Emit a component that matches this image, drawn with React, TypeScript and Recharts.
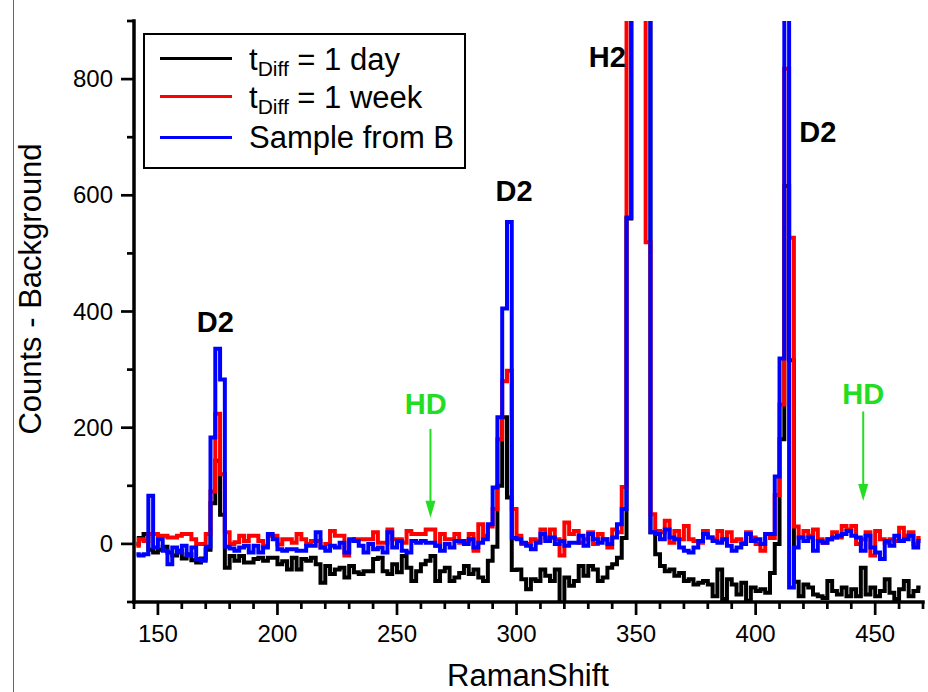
import React from 'react';
import {
  LineChart,
  Line,
  XAxis,
  YAxis,
  Legend,
  ReferenceDot,
  ReferenceLine,
} from 'recharts';

// Raman shift bins (cm-1)
const RAMAN_SHIFT = [
  141, 143, 145, 147, 149, 151, 153, 155, 157, 159,
  161, 163, 165, 167, 169, 171, 173, 175, 177, 179,
  181, 183, 185, 187, 189, 191, 193, 195, 197, 199,
  201, 203, 205, 207, 209, 211, 213, 215, 217, 219,
  221, 223, 225, 227, 229, 231, 233, 235, 237, 239,
  241, 243, 245, 247, 249, 251, 253, 255, 257, 259,
  261, 263, 265, 267, 269, 271, 273, 275, 277, 279,
  281, 283, 285, 287, 289, 291, 293, 295, 297, 299,
  301, 303, 305, 307, 309, 311, 313, 315, 317, 319,
  321, 323, 325, 327, 329, 331, 333, 335, 337, 339,
  341, 343, 345, 347, 349, 351, 353, 355, 357, 359,
  361, 363, 365, 367, 369, 371, 373, 375, 377, 379,
  381, 383, 385, 387, 389, 391, 393, 395, 397, 399,
  401, 403, 405, 407, 409, 411, 413, 415, 417, 419,
  421, 423, 425, 427, 429, 431, 433, 435, 437, 439,
  441, 443, 445, 447, 449, 451, 453, 455, 457, 459,
  461, 463, 465, 467, 469,
];

// t_Diff = 1 day (black)
const DAY_1 = [
  0, 10, 17, -10, -15, -10, -5, -15, -20, -12,
  -25, -18, -28, -32, -25, -10, 70, 143, 50, -41,
  -21, -29, -21, -32, -32, -26, -24, -29, -24, -24,
  -35, -30, -44, -24, -44, -26, -29, -24, -35, -67,
  -38, -52, -44, -41, -58, -38, -49, -52, -47, -47,
  -26, -24, -47, -52, -35, -49, -21, -41, -64, -47,
  -35, -29, -21, -64, -47, -41, -64, -58, -50, -38,
  -52, -44, -58, -64, -29, -5, 100, 218, 80, -45,
  -44, -61, -78, -61, -64, -44, -55, -64, -44, -105,
  -58, -72, -64, -38, -55, -38, -44, -64, -58, -41,
  -35, -24, 10, 560, 2000, 2500, 2000, 3000, 20, -18,
  -38, -47, -44, -55, -50, -64, -61, -70, -67, -64,
  -70, -90, -44, -95, -61, -70, -87, -67, -98, -75,
  -81, -78, -84, -50, 0, 180, 616, 316, -65, -90,
  -70, -75, -87, -90, -93, -64, -81, -87, -75, -90,
  -78, -90, -41, -87, -75, -90, -81, -61, -84, -95,
  -78, -64, -90, -81, -75,
];

// t_Diff = 1 week (red)
const WEEK_1 = [
  -3, 8, 5, 17, 17, 14, 14, 11, 11, 14,
  17, 17, 8, 0, 0, 17, 90, 224, 120, 20,
  0, 3, 14, 5, 14, 14, 5, -3, 14, 14,
  -1, 8, 8, 2, 17, 8, 0, 5, 5, -6,
  0, 22, 14, 14, -20, 5, 8, 8, 8, 8,
  20, 2, 2, 25, 8, 8, 2, 22, 17, 17,
  17, 25, 25, -3, 17, 8, 8, 17, 2, 5,
  17, -12, 34, 14, 30, 60, 180, 280, 298, 60,
  14, 0, 0, 8, 5, 25, 11, 25, 8, -20,
  37, 17, 22, 2, 8, 20, 0, 17, 8, -6,
  25, 20, 98, 3000, 3500, 3500, 3000, 519, 51, 22,
  20, 40, 2, 22, 8, 31, 8, 5, 2, 22,
  11, 8, 22, 8, 20, 5, 8, 2, 20, 11,
  0, -12, 17, 10, 84, 240, 818, 527, 30, 11,
  22, 14, 25, 8, 2, 8, 20, 11, 31, 25,
  31, 0, 8, 20, -20, 22, 8, 2, 8, 5,
  28, 14, 20, 0, 10,
];

// Sample from B (blue)
const SAMPLE_B = [
  -18, -20, -18, 83, -6, 8, -12, -35, -6, -15,
  -3, -20, -6, -26, -29, -5, 183, 336, 283, -5,
  -8, -12, -6, -3, -15, -3, -15, -6, 17, 8,
  -9, -12, -9, -9, -12, -12, -3, -3, 20, -6,
  -12, -3, -6, 2, -15, 8, 5, -3, -15, 0,
  -9, -6, -15, 20, -6, 5, -12, -15, 5, 2,
  5, 2, 2, -3, -12, 0, -6, 5, 5, 0,
  8, -6, 2, 8, 34, 97, 218, 405, 554, 10,
  8, 2, -3, -9, 2, 17, 5, 11, 0, 5,
  -3, 2, 2, 14, -3, 17, 8, 2, 8, 0,
  11, 34, 60, 562, 3000, 3500, 3000, 2500, 20, 17,
  8, 25, 11, 8, -6, -12, -15, -6, 5, 17,
  11, 5, 2, 8, -3, -12, -6, 0, 17, 5,
  8, 0, 17, 17, 116, 319, 1500, -75, -6, 11,
  5, 11, -12, 5, 2, 8, 11, 14, 17, 22,
  14, 11, -12, 14, -6, -15, -26, 5, -3, 14,
  5, 8, 14, -6, 5,
];

const X_TICKS = [140, 150, 160, 170, 180, 190, 200, 210, 220, 230, 240, 250, 260, 270, 280, 290, 300, 310, 320, 330, 340, 350, 360, 370, 380, 390, 400, 410, 420, 430, 440, 450, 460, 470];
const X_LABELS = [150, 200, 250, 300, 350, 400, 450];
const Y_TICKS = [-100, 0, 100, 200, 300, 400, 500, 600, 700, 800, 900];
const Y_LABELS = [0, 200, 400, 600, 800];

const PEAK_LABELS = [
  { text: 'D2', x: 174, y: 364, green: false },
  { text: 'D2', x: 299, y: 591, green: false },
  { text: 'H2', x: 338, y: 821, green: false },
  { text: 'D2', x: 426, y: 691, green: false },
  { text: 'HD', x: 262, y: 224, green: true },
  { text: 'HD', x: 445, y: 241, green: true },
];
const HD_ARROWS = [
  { x: 264, top: 198, tip: 45 },
  { x: 445, top: 228, tip: 74 },
];

const FONT = "'Liberation Sans', Arial, Helvetica, sans-serif";
const GREEN = '#22dd22';
const AXIS_LINE = { stroke: '#000', strokeWidth: 3.5, strokeLinecap: 'square' as const };

const rows = RAMAN_SHIFT.map((x, i) => ({
  x,
  day: DAY_1[i],
  week: WEEK_1[i],
  sampleB: SAMPLE_B[i],
}));

function BottomTick({ x, y, payload }: any) {
  const major = X_LABELS.includes(payload.value);
  return (
    <g>
      <line x1={x} x2={x} y1={y} y2={y + (major ? 13 : 7)} stroke="#000" strokeWidth={2.7} />
      {major && (
        <text x={x} y={y + 40} textAnchor="middle" fontSize={24} fontFamily={FONT} fill="#000">
          {payload.value}
        </text>
      )}
    </g>
  );
}

function TopTick({ x, y, payload }: any) {
  const major = X_LABELS.includes(payload.value);
  return <line x1={x} x2={x} y1={y} y2={y - (major ? 13 : 7)} stroke="#000" strokeWidth={2.7} />;
}

function LeftTick({ x, y, payload }: any) {
  const major = Y_LABELS.includes(payload.value);
  return (
    <g>
      <line x1={x} x2={x - (major ? 13 : 7)} y1={y} y2={y} stroke="#000" strokeWidth={2.7} />
      {major && (
        <text x={x - 21} y={y + 8} textAnchor="end" fontSize={24} fontFamily={FONT} fill="#000">
          {payload.value}
        </text>
      )}
    </g>
  );
}

function RightTick({ x, y, payload }: any) {
  const major = Y_LABELS.includes(payload.value);
  return <line x1={x} x2={x + (major ? 13 : 7)} y1={y} y2={y} stroke="#000" strokeWidth={2.7} />;
}

function XTitle() {
  return (
    <text x={528} y={686} textAnchor="middle" fontSize={31} fontFamily={FONT} fill="#000">
      RamanShift
    </text>
  );
}

function YTitle() {
  return (
    <text transform="translate(41,289) rotate(-90)" textAnchor="middle" fontSize={31} fontFamily={FONT} fill="#000">
      Counts - Background
    </text>
  );
}

const LEGEND_ROWS = [
  { color: '#000000', sub: true, label: ' = 1 day' },
  { color: '#ff0000', sub: true, label: ' = 1 week' },
  { color: '#0000ff', sub: false, label: 'Sample from B' },
];
const LINE_TOPS = [22, 60, 101];
const TEXT_TOPS = [9, 47, 87];

function LegendBox() {
  return (
    <div
      style={{
        position: 'relative',
        width: 323,
        height: 136,
        boxSizing: 'border-box',
        border: '2px solid #000',
        background: '#fff',
        fontFamily: FONT,
        fontSize: 31,
        lineHeight: '31px',
        color: '#000',
      }}
    >
      {LEGEND_ROWS.map((r, i) => (
        <React.Fragment key={i}>
          <div style={{ position: 'absolute', left: 15, top: LINE_TOPS[i], width: 72, height: 3, background: r.color }} />
          <div style={{ position: 'absolute', left: 104, top: TEXT_TOPS[i], whiteSpace: 'nowrap' }}>
            {r.sub ? (
              <>
                t<span style={{ fontSize: 21, verticalAlign: '-6px', lineHeight: '21px' }}>Diff</span>
                {r.label}
              </>
            ) : (
              r.label
            )}
          </div>
        </React.Fragment>
      ))}
    </div>
  );
}

export default function App() {
  return (
    <div style={{ position: 'absolute', left: 0, top: 0, width: 928, height: 692, background: '#fff' }}>
      <div style={{ position: 'absolute', left: 13, top: 0, width: 1, height: 692, background: '#666' }} />
      <LineChart width={928} height={692} data={rows} margin={{ top: 21, right: 5, bottom: 0, left: 0 }}>
        <XAxis
          dataKey="x"
          type="number"
          domain={[140, 470]}
          allowDataOverflow
          ticks={X_TICKS}
          interval={0}
          height={90}
          tickSize={0}
          tickMargin={0}
          tickLine={false}
          axisLine={AXIS_LINE}
          tick={BottomTick}
          label={<XTitle />}
        />
        <XAxis
          xAxisId="top"
          orientation="top"
          dataKey="x"
          type="number"
          domain={[140, 470]}
          allowDataOverflow
          ticks={X_TICKS}
          interval={0}
          height={0}
          tickSize={0}
          tickMargin={0}
          tickLine={false}
          axisLine={AXIS_LINE}
          tick={TopTick}
        />
        <YAxis
          type="number"
          domain={[-100, 900]}
          allowDataOverflow
          ticks={Y_TICKS}
          interval={0}
          width={134}
          tickSize={0}
          tickMargin={0}
          tickLine={false}
          axisLine={AXIS_LINE}
          tick={LeftTick}
          label={<YTitle />}
        />
        <YAxis
          yAxisId="right"
          orientation="right"
          type="number"
          domain={[-100, 900]}
          allowDataOverflow
          ticks={Y_TICKS}
          interval={0}
          width={0}
          tickSize={0}
          tickMargin={0}
          tickLine={false}
          axisLine={AXIS_LINE}
          tick={RightTick}
        />
        <Line dataKey="day" type="step" stroke="#000000" strokeWidth={4} dot={false} isAnimationActive={false} />
        <Line dataKey="week" type="step" stroke="#ff0000" strokeWidth={4} dot={false} isAnimationActive={false} />
        <Line dataKey="sampleB" type="step" stroke="#0000ff" strokeWidth={4} dot={false} isAnimationActive={false} />
        {HD_ARROWS.map((a, i) => (
          <ReferenceLine
            key={'shaft' + i}
            segment={[{ x: a.x, y: a.top }, { x: a.x, y: a.tip + 20 }]}
            stroke={GREEN}
            strokeWidth={2}
          />
        ))}
        {HD_ARROWS.map((a, i) => (
          <ReferenceDot
            key={'head' + i}
            x={a.x}
            y={a.tip}
            shape={(p: any) => (
              <polygon
                points={`${p.cx - 5},${p.cy - 17} ${p.cx + 5},${p.cy - 17} ${p.cx},${p.cy}`}
                fill={GREEN}
              />
            )}
          />
        ))}
        {PEAK_LABELS.map((l, i) => (
          <ReferenceDot
            key={'lbl' + i}
            x={l.x}
            y={l.y}
            shape={(p: any) => (
              <text
                x={p.cx}
                y={p.cy}
                textAnchor="middle"
                fontSize={29}
                fontWeight="bold"
                fontFamily={FONT}
                fill={l.green ? GREEN : '#000'}
              >
                {l.text}
              </text>
            )}
          />
        ))}
        <Legend
          layout="vertical"
          align="center"
          verticalAlign="middle"
          content={() => <LegendBox />}
          wrapperStyle={{ left: 143, top: 33, width: 323, height: 136 }}
        />
      </LineChart>
    </div>
  );
}
